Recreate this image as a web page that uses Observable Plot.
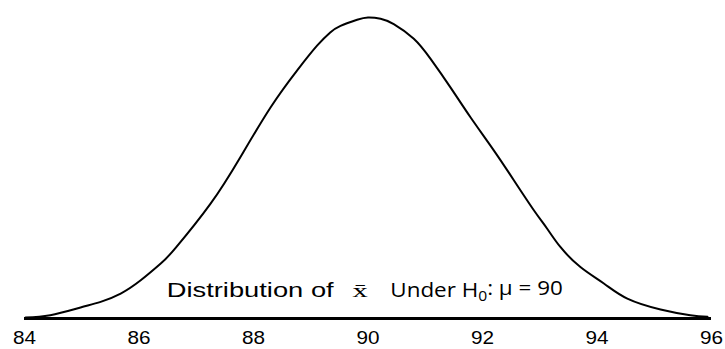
<!DOCTYPE html>
<html>
<head>
<meta charset="utf-8">
<script src="https://cdn.jsdelivr.net/npm/d3@7"></script>
<script src="https://cdn.jsdelivr.net/npm/@observablehq/plot@0.6"></script>
<style>
  html, body { margin: 0; padding: 0; background: #fff; }
</style>
</head>
<body>
<div id="chart"></div>
<script>
// Sample mean values (x)
const sampleMeans = [84.02, 84.45, 84.98, 85.33, 85.68, 86.03, 86.38, 86.64, 87.25, 87.77,
  88.30, 88.76, 89.11, 89.34, 89.52, 89.81, 90.00, 90.22, 90.45,
  90.80, 91.09, 91.44, 91.79, 92.20, 92.55, 92.90, 93.13, 93.36, 93.71,
  94.12, 94.53, 95.11, 95.63, 95.93];
// Density heights
const densities = [0.0007, 0.0022, 0.0073, 0.0110, 0.0165, 0.0253, 0.0364, 0.0468, 0.0761, 0.1069,
  0.1400, 0.1643, 0.1808, 0.1896, 0.1940, 0.1980, 0.1995, 0.1987, 0.1951,
  0.1854, 0.1722, 0.1532, 0.1334, 0.1113, 0.0915, 0.0716, 0.0595, 0.0474, 0.0341,
  0.0232, 0.0132, 0.0060, 0.0022, 0.0012];
const tickValues = [84, 86, 88, 90, 92, 94, 96];
const annotationLeft = "Distribution of";
const annotationBar = "x\u0304";
const annotationRightMain = "Under H";
const annotationRightSub = "0";
const annotationRightTail = ": \u03bc = 90";

const curveData = sampleMeans.map((x, i) => ({x, d: densities[i]}));

const plot = Plot.plot({
  width: 725,
  height: 349,
  marginLeft: 24,
  marginRight: 14,
  marginTop: 17,
  marginBottom: 31,
  style: {fontFamily: "'Liberation Sans', Arial, sans-serif", background: "#fff", color: "#000"},
  x: {domain: [84, 96]},
  y: {domain: [0, 0.1995], axis: null},
  marks: [
    Plot.ruleY([0], {stroke: "#000", strokeWidth: 3}),
    Plot.line(curveData, {x: "x", y: "d", curve: "natural", stroke: "#000", strokeWidth: 2}),
    Plot.axisX({ticks: tickValues, tickSize: 0, tickPadding: 12, fontSize: 18.5, label: null, tickFormat: d => String(d)}),
    Plot.text([annotationLeft], {x: () => 89.40, y: () => 0.0141, text: d => d, textAnchor: "end", lineAnchor: "bottom", fontSize: 21, fill: "#000"}),
    Plot.text([annotationBar], {x: () => 89.86, y: () => 0.0141, text: d => d, textAnchor: "middle", lineAnchor: "bottom", fontSize: 19, fontFamily: "'Liberation Serif', 'Times New Roman', serif", fill: "#000"}),
    Plot.text([annotationRightMain + annotationRightSub + annotationRightTail], {x: () => 90.39, y: () => 0.0141, text: d => d, textAnchor: "start", lineAnchor: "bottom", fontSize: 20, fontFamily: "'Open Sans', sans-serif", fill: "#000"})
  ]
});

document.getElementById("chart").append(plot);

function stretch(el, factor) {
  const w = el.getComputedTextLength();
  el.setAttribute("textLength", (w * factor).toFixed(2));
  el.setAttribute("lengthAdjust", "spacingAndGlyphs");
}

d3.select(plot).selectAll("text").each(function() {
  const t = this.textContent;
  if (tickValues.map(String).includes(t)) {
    stretch(this, 1.12);
  } else if (t === annotationLeft) {
    stretch(this, 1.3);
  } else if (t === annotationBar) {
    stretch(this, 1.6);
  } else if (t.startsWith(annotationRightMain)) {
    const sel = d3.select(this);
    sel.text(null);
    sel.append("tspan").text(annotationRightMain);
    sel.append("tspan").attr("dy", "0.3em").attr("font-size", 14).text(annotationRightSub);
    sel.append("tspan").attr("dy", "-0.3em").text(annotationRightTail);
    stretch(this, 1.12);
  }
});
</script>
</body>
</html>
